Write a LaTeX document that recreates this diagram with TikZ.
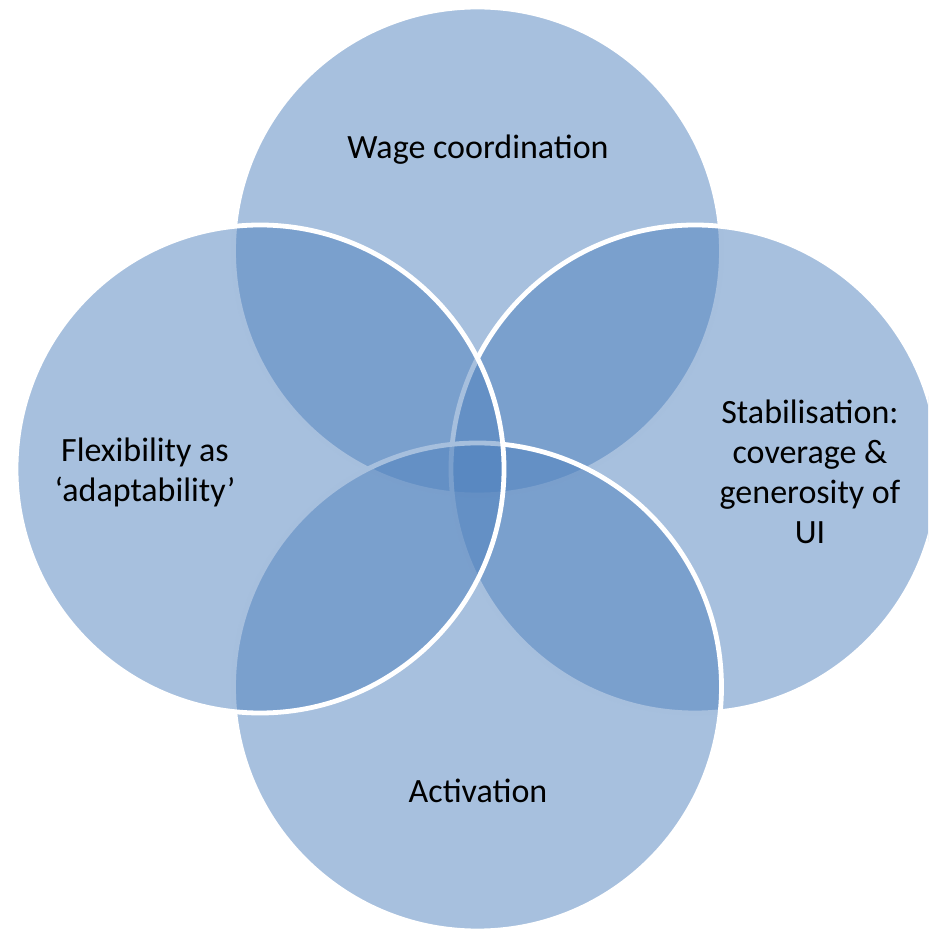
\documentclass[tikz,border=0pt]{standalone}
\usepackage{fontspec}
\setmainfont{Carlito}
\definecolor{vennblue}{HTML}{4F81BD}
\tikzset{venn/.style={
  x=0.5pt,y=0.5pt,
  line join=round,line cap=round
},
petal/.style={fill=vennblue,fill opacity=0.5,draw=white,line width=2.4pt},
venntext/.style={align=center,font=\fontsize{17}{20}\selectfont,text=black}}

\begin{document}
\begin{tikzpicture}[venn]
  \useasboundingbox (0,0) rectangle (928,933);
  \clip (0,0) rectangle (928,933);
  \coordinate (T) at (477.5,682);
  \coordinate (R) at (695,464);
  \coordinate (B) at (477.5,246);
  \coordinate (L) at (260,464);
  % later circles sit on top of the earlier ones
  \draw[petal] (T) circle[radius=244];
  \draw[petal] (R) circle[radius=244];
  \draw[petal] (B) circle[radius=244];
  \draw[petal] (L) circle[radius=244];
  \node[venntext] (wage) at (478,783) {Wage coordination};
  \node[venntext] (flex) at (145,461) {Flexibility as\\`adaptability'};
  \node[venntext] (stab) at (810,461) {Stabilisation:\\coverage \&\\generosity of\\UI};
  \node[venntext] (act) at (478,142) {Activation};
\end{tikzpicture}
\end{document}
